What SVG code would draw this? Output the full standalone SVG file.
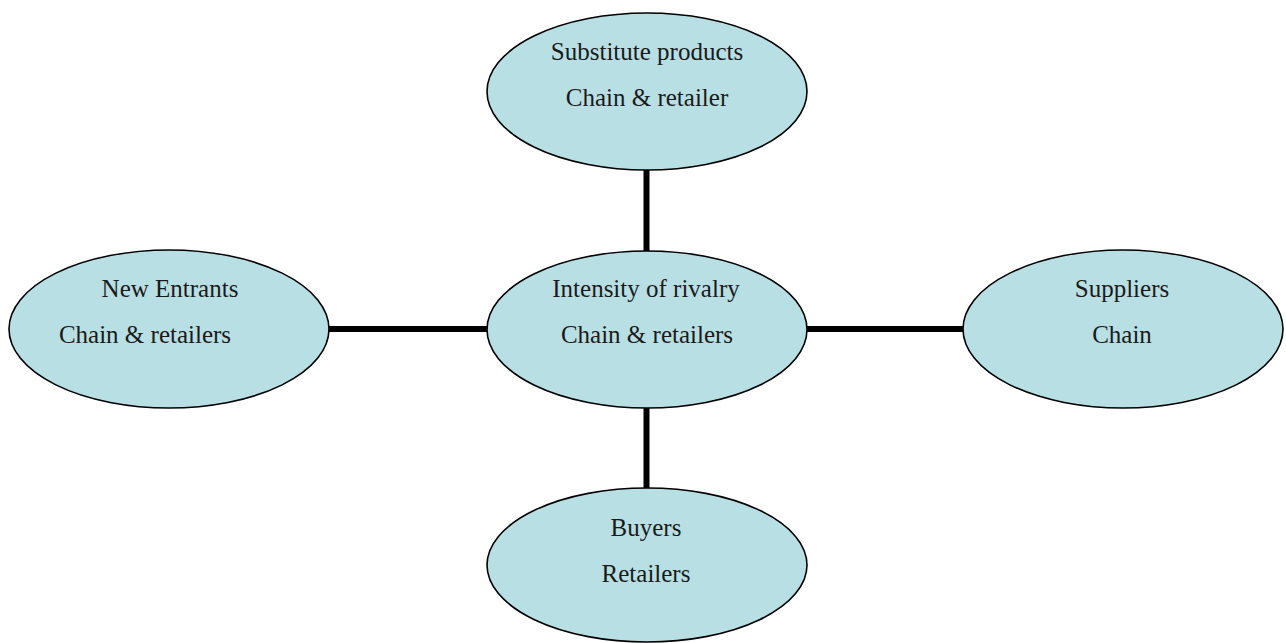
<svg xmlns="http://www.w3.org/2000/svg" width="1286" height="643" viewBox="0 0 1286 643">
  <style>
    .node ellipse { fill: #B8DFE3; stroke: #000; stroke-width: 1.6; }
    .node text { font-family: "Liberation Serif", "Times New Roman", serif; font-size: 25px; fill: #1a1a1a; text-anchor: middle; }
    .link { stroke: #000; stroke-width: 6; fill: none; }
  </style>
  <rect width="1286" height="643" fill="#fff"/>

  <!-- connectors: spokes from the central node -->
  <g id="connectors">
    <line class="link" x1="646.5" y1="170" x2="646.5" y2="251"/>
    <line class="link" x1="646.5" y1="407" x2="646.5" y2="489"/>
    <line class="link" x1="329" y1="329" x2="488" y2="329"/>
    <line class="link" x1="805" y1="329" x2="964" y2="329"/>
  </g>

  <g id="node-substitutes" class="node">
    <ellipse cx="647" cy="91.5" rx="160" ry="78.5"/>
    <text x="647" y="60">Substitute products</text>
    <text x="647" y="106">Chain &amp; retailer</text>
  </g>

  <g id="node-new-entrants" class="node">
    <ellipse cx="169" cy="329" rx="160" ry="79"/>
    <text x="170" y="297">New Entrants</text>
    <text x="145" y="343">Chain &amp; retailers</text>
  </g>

  <g id="node-rivalry" class="node">
    <ellipse cx="647" cy="329.5" rx="160" ry="78.5"/>
    <text x="646" y="297">Intensity of rivalry</text>
    <text x="647" y="343">Chain &amp; retailers</text>
  </g>

  <g id="node-suppliers" class="node">
    <ellipse cx="1123" cy="329" rx="160" ry="79"/>
    <text x="1122" y="297">Suppliers</text>
    <text x="1122" y="343">Chain</text>
  </g>

  <g id="node-buyers" class="node">
    <ellipse cx="647" cy="565" rx="160" ry="77"/>
    <text x="646" y="536">Buyers</text>
    <text x="646" y="582">Retailers</text>
  </g>
</svg>
